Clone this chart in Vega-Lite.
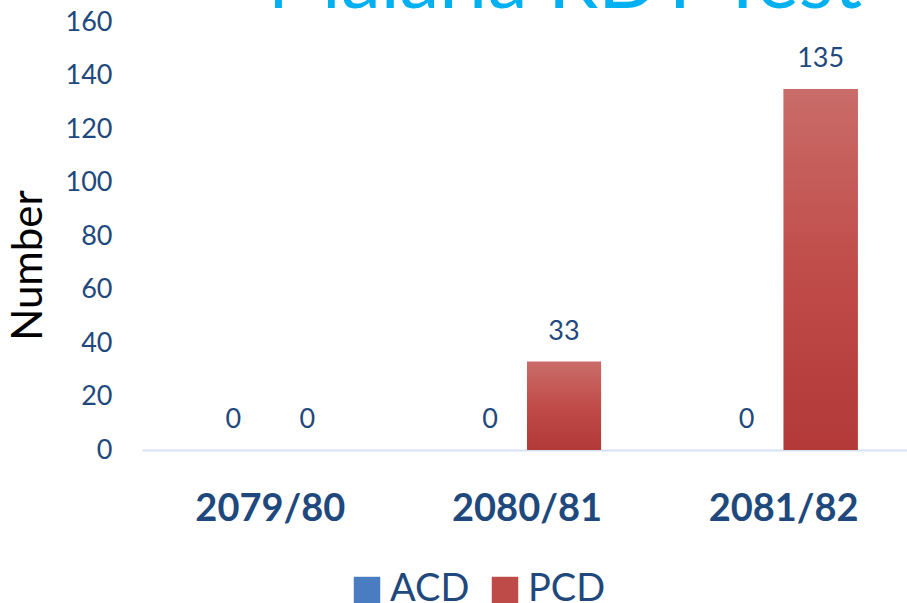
{
  "$schema": "https://vega.github.io/schema/vega-lite/v6.json",
  "autosize": {"type": "none"},
  "width": 770,
  "height": 428,
  "padding": {"left": 142, "top": 22, "right": 0, "bottom": 153},
  "background": "white",
  "config": {
    "view": {"stroke": null},
    "font": "Lato"
  },
  "data": {
    "values": [
      {"year": "2079/80", "series": "ACD", "value": 0},
      {"year": "2079/80", "series": "PCD", "value": 0},
      {"year": "2080/81", "series": "ACD", "value": 0},
      {"year": "2080/81", "series": "PCD", "value": 33},
      {"year": "2081/82", "series": "ACD", "value": 0},
      {"year": "2081/82", "series": "PCD", "value": 135}
    ]
  },
  "encoding": {
    "x": {
      "field": "year",
      "type": "nominal",
      "sort": null,
      "scale": {"domain": ["2079/80", "2080/81", "2081/82"], "paddingInner": 0.423, "paddingOuter": 0.2115},
      "axis": {
        "title": null,
        "labelAngle": 0,
        "labelFont": "Lato",
        "labelFontSize": 38,
        "labelFontWeight": "bold",
        "labelColor": "#1F497D",
        "labelPadding": 40,
        "ticks": false,
        "domainColor": "#D6E1F2",
        "domainWidth": 2
      }
    },
    "y": {
      "field": "value",
      "type": "quantitative",
      "scale": {"domain": [0, 160]},
      "axis": {
        "title": "Number",
        "titleFont": "Lato",
        "titleFontSize": 42,
        "titleFontWeight": "normal",
        "titleColor": "#000000",
        "titleX": -114,
        "titleY": 243,
        "titleAngle": -90,
        "titleAlign": "center",
        "titleBaseline": "middle",
        "values": [0, 20, 40, 60, 80, 100, 120, 140, 160],
        "labelFont": "Lato",
        "labelFontSize": 27,
        "labelColor": "#1F497D",
        "labelPadding": 30,
        "ticks": false,
        "domain": false,
        "grid": false
      }
    }
  },
  "layer": [
    {
      "mark": {"type": "bar"},
      "encoding": {
        "xOffset": {"field": "series", "type": "nominal", "sort": ["ACD", "PCD"], "scale": {"paddingInner": 0, "paddingOuter": 0}},
        "color": {
          "field": "series",
          "type": "nominal",
          "scale": {"domain": ["ACD", "PCD"], "range": ["#4A7CC2", "#BE4B48"]},
          "legend": {
            "title": null,
            "orient": "none",
            "direction": "horizontal",
            "legendX": 206,
            "legendY": 549,
            "symbolType": "square",
            "symbolSize": 700,
            "symbolStrokeWidth": 0,
            "labelFont": "Lato",
            "labelFontSize": 38,
            "labelColor": "#1F497D",
            "labelOffset": 4,
            "columnPadding": 16
          }
        }
      }
    },
    {
      "transform": [{"filter": "datum.series === 'PCD'"}],
      "mark": {
        "type": "bar",
        "color": {
          "gradient": "linear",
          "x1": 0, "y1": 0, "x2": 0, "y2": 1,
          "stops": [
            {"offset": 0, "color": "#C96C69"},
            {"offset": 0.5, "color": "#C04C49"},
            {"offset": 1, "color": "#B23937"}
          ]
        }
      },
      "encoding": {
        "xOffset": {"field": "series", "type": "nominal", "sort": ["ACD", "PCD"]}
      }
    },
    {
      "mark": {"type": "text", "baseline": "bottom", "dy": -16, "fontSize": 27, "font": "Lato", "color": "#1F497D"},
      "encoding": {
        "xOffset": {"field": "series", "type": "nominal", "sort": ["ACD", "PCD"]},
        "text": {"field": "value", "type": "quantitative"}
      }
    },
    {
      "data": {"values": [{"year": "2080/81", "value": 165.2, "label": "Malaria RDT Test"}]},
      "mark": {"type": "text", "baseline": "alphabetic", "align": "center", "dx": 38, "fontSize": 80, "font": "Lato", "color": "#00B0F0"},
      "encoding": {
        "text": {"field": "label", "type": "nominal"}
      }
    }
  ]
}
